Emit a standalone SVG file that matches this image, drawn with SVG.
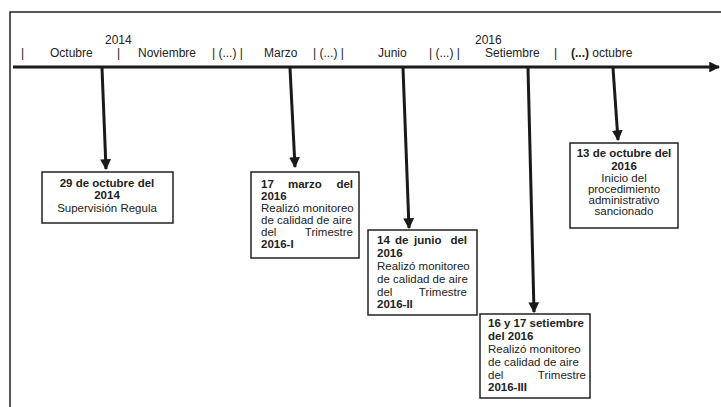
<svg xmlns="http://www.w3.org/2000/svg" width="721" height="407" viewBox="0 0 721 407">
<style>
text{font-family:"Liberation Sans",Arial,sans-serif;fill:#222}
.h{font-size:12px}
.b{font-size:11.5px;font-weight:bold}
.n{font-size:11.5px}
.c{text-anchor:middle}
.box{fill:#fff;stroke:#222;stroke-width:1.5}
.con{stroke:#1a1a1a;stroke-width:3;fill:none}
</style>
<defs>
<marker id="ah" viewBox="0 0 10 10" refX="9" refY="5" markerWidth="3.6" markerHeight="3.6" orient="auto" markerUnits="strokeWidth">
<path d="M0,0 L10,5 L0,10 Z" fill="#1a1a1a"/>
</marker>
</defs>
<rect width="721" height="407" fill="#fff"/>
<g id="frame" fill="none" stroke="#222" stroke-width="1.5">
<path d="M10,407 L10,12 L721,12"/>
</g>
<g id="header">
<text x="105" y="44" class="h">2014</text>
<text x="475" y="44" class="h">2016</text>
<text x="21" y="57" class="h">|</text>
<text x="50" y="57" class="h">Octubre</text>
<text x="117" y="57" class="h">|</text>
<text x="138" y="57" class="h">Noviembre</text>
<text x="212" y="57" class="h">| (...) |</text>
<text x="264" y="57" class="h">Marzo</text>
<text x="313" y="57" class="h">| (...) |</text>
<text x="378" y="57" class="h">Junio</text>
<text x="429" y="57" class="h">| (...) |</text>
<text x="485" y="57" class="h">Setiembre</text>
<text x="554" y="57" class="h">|</text>
<text x="571" y="57" class="h" font-weight="bold">(...) <tspan font-weight="normal">octubre</tspan></text>
</g>
<g id="connectors">
<line class="con" x1="13" y1="67" x2="719" y2="67" marker-end="url(#ah)"/>
<line class="con" x1="102" y1="68" x2="106" y2="169" marker-end="url(#ah)"/>
<line class="con" x1="290" y1="68" x2="295" y2="167" marker-end="url(#ah)"/>
<line class="con" x1="403" y1="68" x2="409" y2="228" marker-end="url(#ah)"/>
<line class="con" x1="528" y1="68" x2="534" y2="312" marker-end="url(#ah)"/>
<line class="con" x1="613" y1="68" x2="618" y2="140" marker-end="url(#ah)"/>
</g>
<g id="node1">
<rect class="box" x="42" y="172" width="131" height="51"/>
<text x="107" y="187" class="b c">29 de octubre del</text>
<text x="107" y="199" class="b c">2014</text>
<text x="107" y="212" class="n c">Supervisión Regula</text>
</g>
<g id="node2">
<rect class="box" x="251" y="172" width="108" height="86"/>
<text y="188" class="b"><tspan x="261">17</tspan><tspan x="288">marzo</tspan><tspan x="353" text-anchor="end">del</tspan></text>
<text x="261" y="200" class="b">2016</text>
<text x="261" y="212" class="n">Realizó monitoreo</text>
<text x="261" y="224" class="n">de calidad de aire</text>
<text y="236" class="n"><tspan x="261">del</tspan><tspan x="353" text-anchor="end">Trimestre</tspan></text>
<text x="261" y="248" class="b">2016-I</text>
</g>
<g id="node3">
<rect class="box" x="368" y="230" width="109" height="85"/>
<text y="244" class="b"><tspan x="377">14</tspan><tspan x="395">de</tspan><tspan x="414">junio</tspan><tspan x="467" text-anchor="end">del</tspan></text>
<text x="377" y="257" class="b">2016</text>
<text x="377" y="270" class="n">Realizó monitoreo</text>
<text x="377" y="283" class="n">de calidad de aire</text>
<text y="296" class="n"><tspan x="377">del</tspan><tspan x="467" text-anchor="end">Trimestre</tspan></text>
<text x="377" y="308" class="b">2016-II</text>
</g>
<g id="node4">
<rect class="box" x="480" y="314" width="110" height="84"/>
<text x="488" y="327" class="b">16 y 17 setiembre</text>
<text x="488" y="340" class="b">del 2016</text>
<text x="488" y="353" class="n">Realizó monitoreo</text>
<text x="488" y="366" class="n">de calidad de aire</text>
<text y="379" class="n"><tspan x="488">del</tspan><tspan x="586" text-anchor="end">Trimestre</tspan></text>
<text x="488" y="391" class="b">2016-III</text>
</g>
<g id="node5">
<rect class="box" x="570" y="143" width="108" height="85"/>
<text x="624" y="157" class="b c">13 de octubre del</text>
<text x="624" y="170" class="b c">2016</text>
<text x="624" y="182" class="n c">Inicio del</text>
<text x="624" y="193" class="n c">procedimiento</text>
<text x="624" y="204" class="n c">administrativo</text>
<text x="624" y="215" class="n c">sancionado</text>
</g>
</svg>
